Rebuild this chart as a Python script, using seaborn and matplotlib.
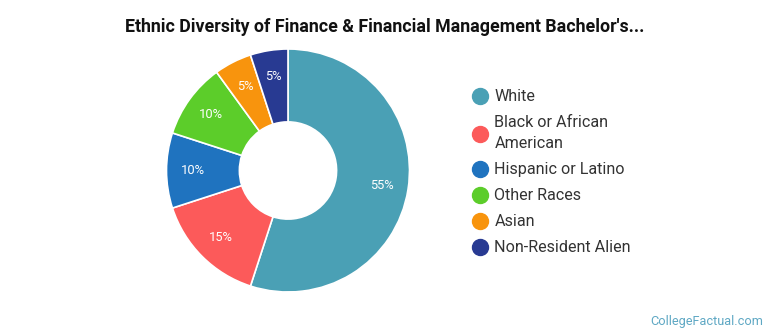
import matplotlib
matplotlib.use("Agg")
import matplotlib.pyplot as plt
from matplotlib.lines import Line2D
import seaborn as sns

# Share of bachelor's degrees by ethnicity (percent)
categories = ["White", "Black or African\nAmerican", "Hispanic or Latino",
              "Other Races", "Asian", "Non-Resident Alien"]
shares = [55, 15, 10, 10, 5, 5]
colors = ["#4aa0b5", "#fc5a5a", "#1f73bf", "#5ccd2a", "#f8940d", "#283a92"]
title = "Ethnic Diversity of Finance & Financial Management Bachelor's..."
credit = "CollegeFactual.com"

sns.set_theme(style="white")
plt.rcParams["font.family"] = ["Roboto", "DejaVu Sans"]

fig = plt.figure(figsize=(7.7, 3.35), dpi=100)
ax = fig.add_axes([(288 - 121.5) / 770, (335 - 170.5 - 121.5) / 335,
                   243 / 770, 243 / 335])

wedges, texts, autotexts = ax.pie(
    shares, colors=colors, startangle=90, counterclock=False,
    autopct=lambda p: f"{p:.0f}%", pctdistance=0.78,
    wedgeprops=dict(width=0.6, edgecolor="white", linewidth=1.2),
    textprops=dict(color="white", fontsize=9.3),
)
ax.set_xlim(-1, 1)
ax.set_ylim(-1, 1)
ax.set_aspect("equal")
ax.axis("off")

handles = [Line2D([0], [0], marker="o", linestyle="", markersize=11.5,
                  markerfacecolor=c, markeredgecolor=c) for c in colors]
leg = fig.legend(handles, categories, loc="upper left",
                 bbox_to_anchor=(467 / 770, 1 - 83 / 335), frameon=False,
                 fontsize=11.6, handlelength=0.8, handletextpad=0.5,
                 labelspacing=0.68, borderaxespad=0, labelcolor="#333333")
for t in leg.get_texts():
    t.set_linespacing(1.5)

fig.text(0.5, 1 - 27 / 335, title, ha="center", va="center",
         fontsize=12.8, fontweight="bold", color="#111111")
fig.text(763 / 770, 1 - 321 / 335, credit, ha="right", va="center",
         fontsize=9.2, color="#5fa8c4")

fig.savefig("out.png", dpi=100)
